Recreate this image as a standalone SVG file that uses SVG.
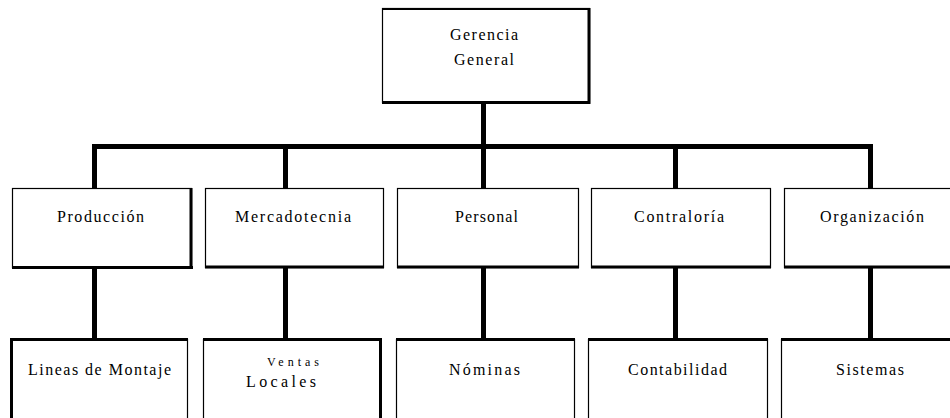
<svg xmlns="http://www.w3.org/2000/svg" width="950" height="418" viewBox="0 0 950 418">
  <style>
    .box { fill: #ffffff; stroke: #000000; stroke-width: 1.2; }
    .edge { stroke: #000000; stroke-width: 3; fill: none; }
    .link { stroke: #000000; stroke-width: 5; fill: none; stroke-linecap: butt; }
    text { font-family: 'Liberation Serif', 'DejaVu Serif', serif; font-size: 16px; fill: #000000; text-anchor: middle; }
    .small { font-size: 12px; }
  </style>
  <rect width="950" height="418" fill="#ffffff"/>

  <!-- connectors -->
  <g id="connectors">
    <path class="link" d="M483.5 103 V188"/>
    <path class="link" d="M92 146.5 H873"/>
    <path class="link" d="M94.5 144 V188 M285.5 144 V188 M675.5 144 V188 M870.5 144 V188"/>
    <path class="link" d="M94.5 268 V339 M285.5 268 V339 M483.5 268 V339 M675.5 268 V339 M870.5 268 V339"/>
  </g>

  <!-- top level -->
  <g id="gerencia">
    <rect class="box" x="382.5" y="8.5" width="207" height="94"/>
    <path class="edge" d="M382 102.5 H590 M589 8 V104"/>
    <path d="M382 9 H590" stroke="#000" stroke-width="2"/>
    <text x="484" y="40" textLength="68" lengthAdjust="spacing">Gerencia</text>
    <text x="484" y="65" textLength="60" lengthAdjust="spacing">General</text>
  </g>

  <!-- second level -->
  <g id="produccion">
    <rect class="box" x="12.5" y="188.5" width="179" height="79"/>
    <path class="edge" d="M12 267.5 H193 M191 188 V269"/>
    <text x="100.5" y="222" textLength="87" lengthAdjust="spacing">Producción</text>
  </g>
  <g id="mercadotecnia">
    <rect class="box" x="205.5" y="188.5" width="178" height="79"/>
    <path class="edge" d="M205 267 H384"/>
    <text x="293" y="222" textLength="116" lengthAdjust="spacing">Mercadotecnia</text>
  </g>
  <g id="personal">
    <rect class="box" x="397.5" y="188.5" width="181" height="79"/>
    <path class="edge" d="M397 267 H579"/>
    <text x="486.5" y="222" textLength="63" lengthAdjust="spacing">Personal</text>
  </g>
  <g id="contraloria">
    <rect class="box" x="591.5" y="188.5" width="179" height="79"/>
    <path class="edge" d="M591 267 H771"/>
    <text x="679" y="222" textLength="90" lengthAdjust="spacing">Contraloría</text>
  </g>
  <g id="organizacion">
    <rect class="box" x="784.5" y="188.5" width="180" height="79"/>
    <path class="edge" d="M784 267 H950"/>
    <text x="872" y="222" textLength="104" lengthAdjust="spacing">Organización</text>
  </g>

  <!-- third level -->
  <g id="lineas">
    <rect class="box" x="11.5" y="339.5" width="176" height="90"/>
    <path class="edge" d="M10 339.5 H188 M11.5 338 V418"/>
    <text x="99.5" y="375" textLength="143" lengthAdjust="spacing">Lineas de Montaje</text>
  </g>
  <g id="ventas">
    <rect class="box" x="203.5" y="339.5" width="177" height="90"/>
    <path class="edge" d="M203 339.5 H382 M380.5 338 V418"/>
    <text class="small" x="293" y="366" textLength="52" lengthAdjust="spacing">Ventas</text>
    <text x="281" y="387" textLength="70" lengthAdjust="spacing">Locales</text>
  </g>
  <g id="nominas">
    <rect class="box" x="396.5" y="339.5" width="178" height="90"/>
    <path class="edge" d="M396 339.5 H575"/>
    <text x="484.5" y="375" textLength="71" lengthAdjust="spacing">Nóminas</text>
  </g>
  <g id="contabilidad">
    <rect class="box" x="588.5" y="339.5" width="179" height="90"/>
    <path class="edge" d="M588 339.5 H768"/>
    <text x="677.5" y="375" textLength="99" lengthAdjust="spacing">Contabilidad</text>
  </g>
  <g id="sistemas">
    <rect class="box" x="781.5" y="339.5" width="180" height="90"/>
    <path class="edge" d="M781 339.5 H950"/>
    <text x="870" y="375" textLength="68" lengthAdjust="spacing">Sistemas</text>
  </g>
</svg>
